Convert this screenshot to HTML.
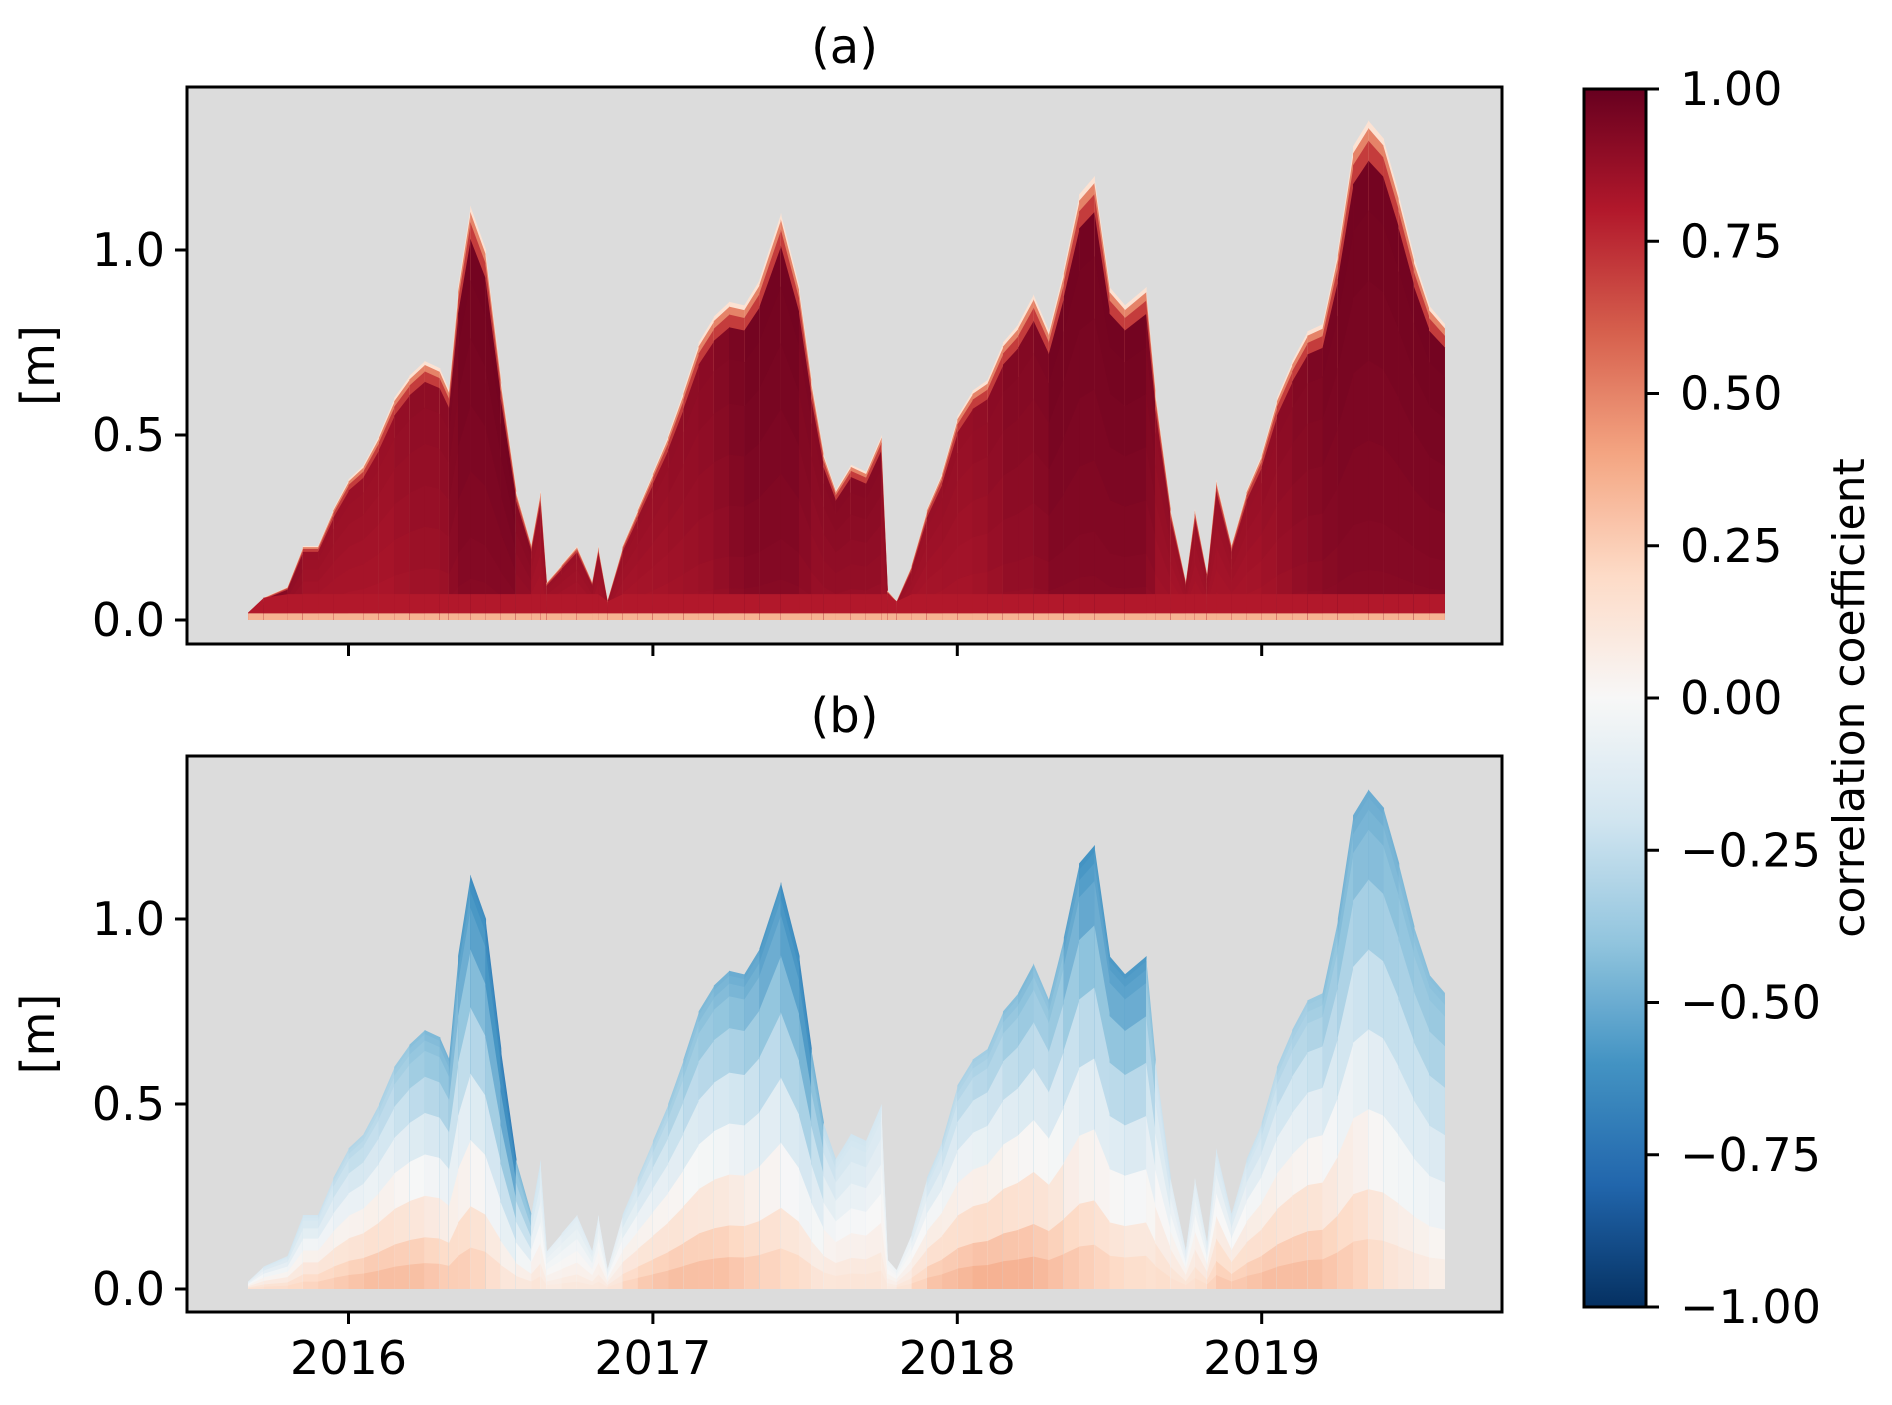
<!DOCTYPE html>
<html><head><meta charset="utf-8"><style>
html,body{margin:0;padding:0;background:#fff}
svg text{font-family:"DejaVu Sans","Liberation Sans",sans-serif;fill:#000}
</style></head><body>
<svg id="fig" width="1892" height="1400" viewBox="0 0 1892 1400" xmlns="http://www.w3.org/2000/svg">
<g id="panels"></g>
<g id="cbar"></g>
</svg>
<script>
// ---- data ----
const years = [2015.67,2015.72,2015.8,2015.85,2015.9,2015.95,2016.0,2016.05,2016.1,2016.15,2016.2,2016.25,2016.3,2016.33,2016.36,2016.4,2016.45,2016.5,2016.55,2016.6,2016.63,2016.65,2016.7,2016.75,2016.8,2016.82,2016.85,2016.9,2016.95,2017.0,2017.05,2017.1,2017.15,2017.2,2017.25,2017.3,2017.35,2017.42,2017.48,2017.52,2017.56,2017.6,2017.65,2017.7,2017.75,2017.77,2017.8,2017.85,2017.9,2017.95,2018.0,2018.05,2018.1,2018.15,2018.2,2018.25,2018.3,2018.35,2018.4,2018.45,2018.5,2018.55,2018.62,2018.65,2018.7,2018.75,2018.78,2018.82,2018.85,2018.9,2018.95,2019.0,2019.05,2019.1,2019.15,2019.2,2019.25,2019.3,2019.35,2019.4,2019.45,2019.5,2019.55,2019.6];
const heights = [0.02,0.06,0.09,0.2,0.2,0.3,0.38,0.42,0.5,0.6,0.66,0.7,0.68,0.62,0.9,1.12,1.0,0.65,0.35,0.2,0.35,0.1,0.15,0.2,0.1,0.2,0.05,0.2,0.3,0.4,0.5,0.62,0.75,0.82,0.86,0.85,0.92,1.1,0.9,0.65,0.45,0.35,0.42,0.4,0.5,0.08,0.05,0.15,0.3,0.4,0.55,0.62,0.65,0.75,0.8,0.88,0.78,0.95,1.15,1.2,0.9,0.85,0.9,0.62,0.3,0.1,0.3,0.12,0.38,0.2,0.35,0.45,0.6,0.7,0.78,0.8,1.0,1.28,1.35,1.3,1.15,0.98,0.85,0.8];
const coreA = [0.9,0.9,0.9,0.85,0.85,0.85,0.85,0.85,0.85,0.85,0.88,0.88,0.88,0.9,0.95,0.95,0.95,0.95,0.95,0.85,0.85,0.85,0.85,0.85,0.85,0.85,0.85,0.85,0.85,0.86,0.86,0.88,0.88,0.9,0.92,0.95,0.95,0.95,0.95,0.9,0.9,0.9,0.9,0.9,0.9,0.85,0.85,0.85,0.85,0.86,0.86,0.86,0.88,0.9,0.92,0.9,0.95,0.95,0.95,0.95,0.95,0.95,0.95,0.9,0.85,0.85,0.85,0.85,0.85,0.85,0.85,0.86,0.88,0.9,0.92,0.93,0.95,0.95,0.95,0.95,0.95,0.95,0.95,0.95];
const topB = [-0.1,-0.15,-0.2,-0.2,-0.2,-0.25,-0.3,-0.3,-0.3,-0.35,-0.4,-0.45,-0.45,-0.5,-0.55,-0.6,-0.65,-0.7,-0.7,-0.2,-0.2,-0.1,-0.1,-0.15,-0.1,-0.15,-0.05,-0.15,-0.25,-0.3,-0.35,-0.4,-0.45,-0.45,-0.5,-0.5,-0.55,-0.6,-0.65,-0.65,-0.3,-0.2,-0.2,-0.2,-0.15,-0.05,-0.05,-0.1,-0.2,-0.25,-0.3,-0.35,-0.35,-0.4,-0.45,-0.45,-0.4,-0.5,-0.6,-0.6,-0.55,-0.6,-0.55,-0.3,-0.15,-0.1,-0.15,-0.1,-0.2,-0.15,-0.2,-0.25,-0.3,-0.35,-0.35,-0.4,-0.45,-0.5,-0.5,-0.5,-0.45,-0.45,-0.4,-0.45];
const botB = [0.15,0.2,0.2,0.25,0.25,0.3,0.3,0.35,0.35,0.35,0.35,0.35,0.3,0.3,0.3,0.3,0.25,0.2,0.15,0.15,0.15,0.1,0.1,0.15,0.1,0.15,0.1,0.2,0.3,0.3,0.35,0.35,0.35,0.35,0.35,0.3,0.3,0.25,0.25,0.2,0.15,0.15,0.15,0.15,0.15,0.1,0.1,0.2,0.3,0.35,0.35,0.4,0.4,0.4,0.4,0.4,0.35,0.35,0.3,0.3,0.25,0.25,0.2,0.2,0.2,0.15,0.2,0.2,0.3,0.3,0.3,0.35,0.35,0.35,0.35,0.35,0.3,0.3,0.25,0.2,0.15,0.15,0.1,0.1];
const xTicks = [2016,2017,2018,2019];
const yTicks = [0.0,0.5,1.0];
const cbTicks = [1.00,0.75,0.50,0.25,0.00,-0.25,-0.50,-0.75,-1.00];

// ---- layout ----
const NS="http://www.w3.org/2000/svg";
const X0=187,X1=1502;
const xScale = y => 348.5 + (y-2016)*304.4;
function mk(tag,attrs,parent){const e=document.createElementNS(NS,tag);for(const k in attrs)e.setAttribute(k,attrs[k]);parent.appendChild(e);return e;}
const stops=[[-1,[5,48,97]],[-0.8,[33,102,172]],[-0.6,[67,147,195]],[-0.4,[146,197,222]],[-0.2,[209,229,240]],[0,[247,247,247]],[0.2,[253,219,199]],[0.4,[244,165,130]],[0.6,[214,96,77]],[0.8,[178,24,43]],[1,[103,0,31]]];
function cmap(v){v=Math.max(-1,Math.min(1,v));for(let i=0;i<stops.length-1;i++){const a=stops[i],b=stops[i+1];if(v<=b[0]){const t=(v-a[0])/(b[0]-a[0]);const c=a[1].map((x,k)=>Math.round(x+(b[1][k]-x)*t));return `rgb(${c[0]},${c[1]},${c[2]})`;}}return 'rgb(103,0,31)';}

const panels=document.getElementById('panels');
function panel(name,top,bot,zeroY,label,mode){
  const yS=h=>zeroY-h*370;
  const g=mk('g',{},panels);
  
  
  const bg=mk('rect',{x:X0,y:top,width:X1-X0,height:bot-top,fill:'#dcdcdc'},g);
  
  
  const marks=mk('g',{},g);
  
  
  const levels=[1,0.985,0.96,0.92,0.82,0.68,0.52,0.36,0.2,0.1];
  for(let i=0;i<years.length-1;i++){
    const xa=xScale(years[i]),xb=xScale(years[i+1])+0.6;
    const ha=heights[i],hb=heights[i+1];
    for(let j=0;j<levels.length;j++){
      const f=levels[j];
      let v;
      if(mode==='a'){
        const c=(coreA[i]+coreA[i+1])/2;
        v = f>0.99?0.15 : f>0.97?0.5 : f>0.94?0.7 : c+0.02-(1-f)*0.06;
      } else {
        const t=(topB[i]+topB[i+1])/2,b=(botB[i]+botB[i+1])/2;
        v = b+(t-b)*Math.pow(f,1.2);
      }
      const p=mk('polygon',{points:`${xa},${yS(0)} ${xa},${yS(ha*f)} ${xb},${yS(hb*f)} ${xb},${yS(0)}`,fill:cmap(v)},marks);
      
      
    }
    if(mode==='a'){
      const b1=mk('polygon',{points:`${xa},${yS(0)} ${xa},${yS(Math.min(ha,0.07))} ${xb},${yS(Math.min(hb,0.07))} ${xb},${yS(0)}`,fill:cmap(0.8)},marks);
      
      
      const b2=mk('polygon',{points:`${xa},${yS(0)} ${xa},${yS(Math.min(ha,0.018))} ${xb},${yS(Math.min(hb,0.018))} ${xb},${yS(0)}`,fill:cmap(0.35)},marks);
      
      
    }
  }
  const fr=mk('rect',{x:X0,y:top,width:X1-X0,height:bot-top,fill:'none',stroke:'#000','stroke-width':3},g);
  
  
  yTicks.forEach(t=>{
    const y=yS(t);
    const l=mk('line',{x1:X0-12,x2:X0,y1:y,y2:y,stroke:'#000','stroke-width':3},g);
    
    
    const tx=mk('text',{x:X0-22,y:y+16,'text-anchor':'end','font-size':46},g);
    tx.textContent=t.toFixed(1);
    
    
  });
  xTicks.forEach(t=>{
    const x=xScale(t);
    const l=mk('line',{x1:x,x2:x,y1:bot,y2:bot+12,stroke:'#000','stroke-width':3},g);
    
    
    if(mode==='b'){
      const tx=mk('text',{x:x,y:bot+62,'text-anchor':'middle','font-size':46},g);
      tx.textContent=t;
      
      
    }
  });
  const tt=mk('text',{x:(X0+X1)/2,y:top-24,'text-anchor':'middle','font-size':48},g);
  tt.textContent=label;
  
  
  const yl=mk('text',{x:0,y:0,'text-anchor':'middle','font-size':46,transform:`translate(54,${(top+bot)/2}) rotate(-90)`},g);
  yl.textContent='[m]';
  
  
}
panel('panel-a',87,644,620,'(a)','a');
panel('panel-b',756,1312,1289,'(b)','b');

// colorbar
const cb=document.getElementById('cbar');
const CT=89,CB=1307,CX0=1584,CX1=1646;
const cbY=v=>CT+(1-v)/2*(CB-CT);
const defs=mk('defs',{},cb);
const lg=mk('linearGradient',{id:'cg',x1:0,y1:0,x2:0,y2:1},defs);
for(let k=0;k<=40;k++){const v=1-k/20;mk('stop',{offset:k/40,'stop-color':cmap(v)},lg);}
const cr=mk('rect',{x:CX0,y:CT,width:CX1-CX0,height:CB-CT,fill:'url(#cg)',stroke:'#000','stroke-width':3},cb);


cbTicks.forEach(v=>{
  const y=cbY(v);
  const l=mk('line',{x1:CX1,x2:CX1+13,y1:y,y2:y,stroke:'#000','stroke-width':3},cb);
  
  
  const t=mk('text',{x:1680,y:y+16,'font-size':46},cb);
  t.textContent=(v<0?'\u2212':'')+Math.abs(v).toFixed(2);
  
  
});
const cl=mk('text',{x:0,y:0,'text-anchor':'middle','font-size':44,transform:`translate(1864,${(CT+CB)/2}) rotate(-90)`},cb);
cl.textContent='correlation coefficient';


</script>
</body></html>
